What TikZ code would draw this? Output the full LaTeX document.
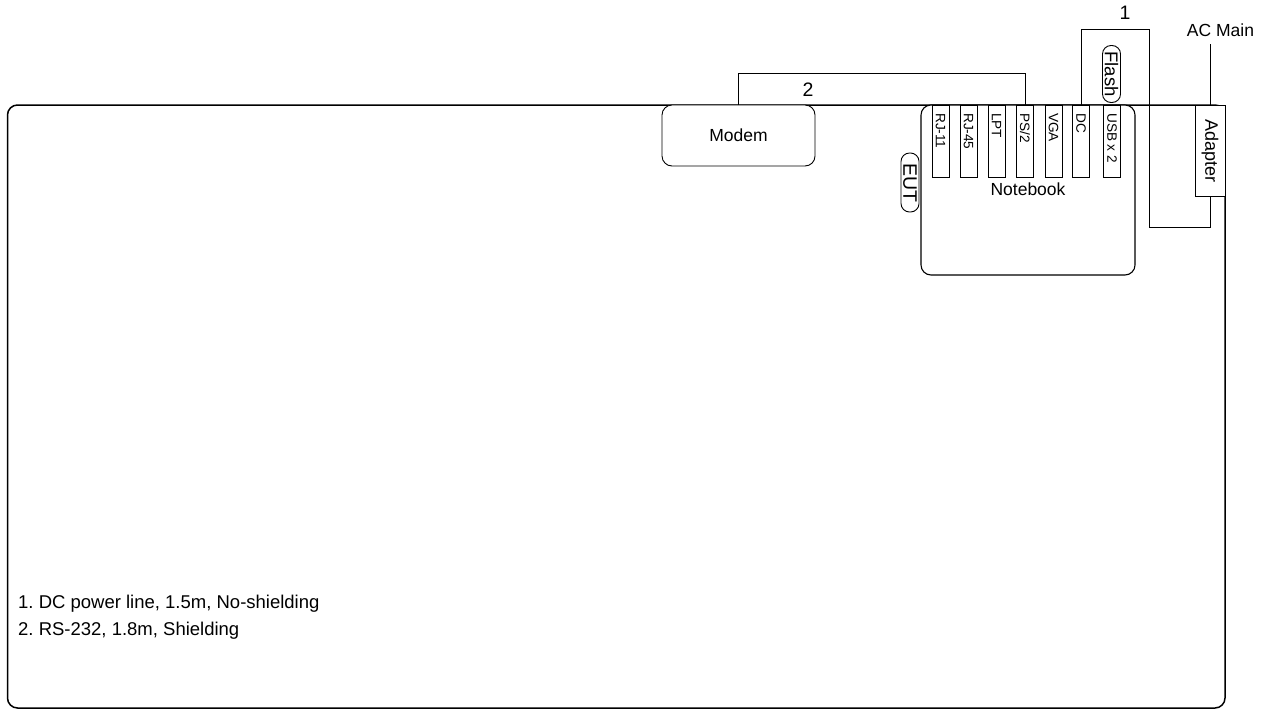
\documentclass[tikz,border=0pt]{standalone}
\usepackage{fontspec}
\setmainfont{Liberation Sans}
\frenchspacing
\begin{document}
\begin{tikzpicture}[x=1pt,y=1pt,
  box/.style={draw, line width=0.9pt, inner sep=0pt, fill=white},
  rbox/.style={box, rounded corners=10pt},
  port/.style={box, minimum width=17pt, minimum height=72pt},
  pill/.style={box, rounded corners=8.5pt, rotate=-90, minimum height=18pt, font=\fontsize{18.5}{20}\selectfont},
  cable/.style={line width=0.9pt},
  lbl/.style={font=\fontsize{17.5}{20}\selectfont, inner sep=0pt},
  numlbl/.style={font=\fontsize{19.5}{22}\selectfont, inner sep=0pt},
  plbl/.style={font=\fontsize{13.6}{15}\selectfont, inner sep=0pt, rotate=-90, anchor=west},
  legend/.style={font=\fontsize{18.5}{21}\selectfont, inner sep=0pt, anchor=base west}]
\useasboundingbox (0,0) rectangle (1268,-710);
% outer frame
\node[draw, line width=1.5pt, rounded corners=10pt, minimum width=1217.5pt, minimum height=603pt, inner sep=0pt] (frame) at (616.25,-406.5) {};
% modem
\node[rbox, minimum width=153pt, minimum height=61pt, font=\fontsize{17.5}{20}\selectfont] (modem) at (738.5,-135.5) {Modem};
% notebook
\node[rbox, line width=1.1pt, minimum width=214pt, minimum height=170pt] (nb) at (1028,-190) {};
\node[lbl] (nbl) at (1028,-189) {Notebook};
% ports
\foreach \n/\x/\t in {rj11/940.5/{RJ-11}, rj45/968.5/{RJ-45}, lpt/996.5/{LPT}, ps2/1025/{PS/2}, vga/1053.5/{VGA}, dc/1081/{DC}, usb/1112/{USB x 2}}{
  \node[port] (\n) at (\x,-141) {};
  \node[plbl] (\n l) at (\x,-113) {\t};
}
% adapter
\node[box, minimum width=30pt, minimum height=91pt] (adapter) at (1210,-150.5) {};
\node[lbl, font=\fontsize{18}{20}\selectfont, rotate=-90] (adl) at (1210,-151) {Adapter};
% pills
\node[pill, minimum width=59pt, font=\fontsize{19.5}{20}\selectfont] (eut) at (910,-182.5) {EUT};
\node[pill, minimum width=57pt] (flash) at (1111.5,-74) {Flash};
% cable 2
\draw[cable] (modem.north) -- ++(0,31) -| (ps2.north);
\node[numlbl] (two) at (808,-90) {2};
% cable 1
\coordinate (c1a) at (1149,-29);
\coordinate (c1b) at (1149,-227);
\draw[cable] (dc.north) |- (c1a) -- (c1b) -| (adapter.south);
\node[numlbl] (one) at (1125,-13) {1};
% AC main
\node[lbl] (acmain) at (1220.5,-30) {AC Main};
\coordinate (acl) at (1210,-44);
\draw[cable] (acl) -- (adapter.north);
% legend
\node[legend] (leg1) at (18,-608) {1. DC power line, 1.5m, No-shielding};
\node[legend] (leg2) at (18,-635) {2. RS-232, 1.8m, Shielding};
\end{tikzpicture}
\end{document}
